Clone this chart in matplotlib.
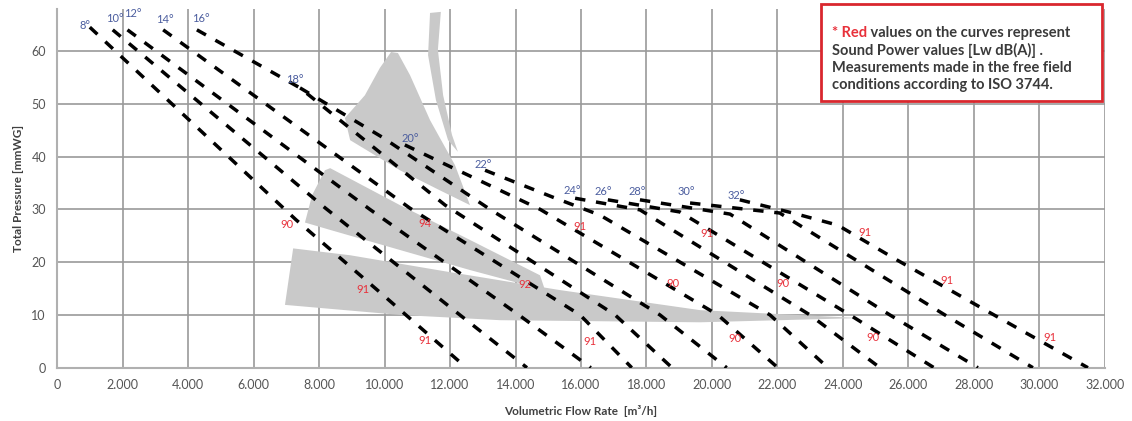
import matplotlib
matplotlib.use("Agg")
import matplotlib.pyplot as plt
from matplotlib.patches import Polygon, Rectangle

plt.rcParams['font.family'] = ['Lato', 'DejaVu Sans']

# Blade angles and their characteristic curves (flow m3/h, pressure mmWG)
angles = [8, 10, 12, 14, 16, 18, 20, 22, 24, 26, 28, 30, 32]
curve_x = [
    [1000, 7300, 9950, 12500],
    [1700, 8200, 12300, 14350],
    [2150, 9550, 14100, 16300],
    [3240, 10780, 15970, 17550],
    [4270, 7420, 11850, 17040, 18780],
    [7420, 9920, 13220, 18410, 20450],
    [10620, 11900, 14750, 20180, 22010],
    [13070, 15140, 16580, 21770, 23540],
    [15820, 17800, 22990, 25130],
    [16820, 19020, 24210, 26780],
    [17800, 20550, 25430, 28120],
    [19330, 22070, 27110, 29800],
    [20850, 22470, 23840, 25650, 28180, 31480],
]
curve_y = [
    [64.5, 28.0, 13.8, 0],
    [64.0, 30.2, 10.0, 0],
    [64.0, 30.0, 10.0, 0],
    [64.0, 30.2, 10.0, 0],
    [64.0, 53.0, 30.8, 10.0, 0],
    [53.0, 43.7, 30.0, 10.0, 0],
    [42.2, 38.4, 30.0, 10.0, 0],
    [37.4, 32.3, 28.9, 10.0, 0],
    [32.1, 29.9, 10.0, 0],
    [31.8, 29.5, 10.0, 0],
    [31.8, 29.1, 10.0, 0],
    [31.2, 29.3, 10.0, 0],
    [31.8, 29.3, 27.0, 20.4, 11.5, 0],
]
# where the angle labels sit
angle_lx = [850, 1770, 2320, 3300, 4400, 7270, 10780, 13010, 15720, 16670, 17710, 19230, 20730]
angle_ly = [64.9, 66.2, 67.0, 65.9, 66.2, 54.5, 43.5, 38.4, 33.6, 33.3, 33.3, 33.3, 32.7]

# Sound power values written on the curves
lw_val = [90, 91, 91, 94, 92, 91, 91, 91, 90, 90, 90, 91, 90, 91, 91]
lw_x = [7020, 9340, 11240, 11240, 14290, 15970, 16270, 19840, 18810, 20700, 22170, 24670, 24910, 27170, 30320]
lw_y = [27.2, 14.9, 5.1, 27.4, 15.7, 26.8, 4.9, 25.5, 16.0, 5.6, 16.0, 25.7, 5.8, 16.6, 5.8]

# grey shaded zones (x, y outline)
zone_x = [
    [11390, 11720, 11630, 11790, 12060, 12240, 11940, 11570, 11330],
    [10200, 10410, 10780, 11390, 12150, 12610, 11690, 10470, 8950, 8790, 9400, 9860],
    [8180, 8340, 10470, 12610, 14750, 14900, 12610, 10470, 8340, 7570, 7790],
    [7210, 8950, 12000, 15360, 19640, 24520, 19640, 13530, 10470, 6960],
]
zone_y = [
    [67.2, 67.4, 60.2, 51.6, 44.1, 40.9, 43.1, 50.7, 59.2],
    [59.8, 59.6, 55.4, 46.9, 38.4, 30.8, 33.6, 37.4, 43.1, 47.3, 51.6, 56.8],
    [37.4, 37.8, 30.8, 24.2, 17.5, 14.7, 18.5, 22.3, 26.1, 27.5, 32.7],
    [22.6, 21.3, 18.1, 14.7, 10.9, 9.4, 8.6, 9.0, 10.0, 11.9],
]

note_lines = ['* Red values on the curves represent',
              'Sound Power values [Lw dB(A)] .',
              'Measurements made in the free field',
              'conditions according to ISO 3744.']

fig = plt.figure(figsize=(11.32, 4.21), dpi=100)
ax = fig.add_axes([0.0504, 0.1266, 0.9257, 0.8527])

for zx, zy in zip(zone_x, zone_y):
    ax.add_patch(Polygon(list(zip(zx, zy)), closed=True, facecolor='#c9c9c9',
                         edgecolor='none', zorder=1))

for cx, cy in zip(curve_x, curve_y):
    ax.plot(cx, cy, color='black', lw=2.5, dashes=(3, 3.1), zorder=3)

for a, lx, ly in zip(angles, angle_lx, angle_ly):
    ax.text(lx, ly, str(a) + '°', color='#4a5c9e', fontsize=8,
            ha='center', va='center', zorder=4)

for v, lx, ly in zip(lw_val, lw_x, lw_y):
    ax.text(lx, ly, str(v), color='#e8303a', fontsize=8,
            ha='center', va='center', zorder=4)

ax.set_xlim(0, 32000)
ax.set_ylim(0, 68)
xt = list(range(0, 32001, 2000))
ax.set_xticks(xt)
ax.set_xticklabels(['{:,}'.format(v).replace(',', '.') for v in xt])
ax.set_yticks(range(0, 61, 10))
ax.grid(True, color='#9a9a9a', lw=1.2)
ax.set_axisbelow(True)
for s in ['top', 'right']:
    ax.spines[s].set_visible(False)
for s in ['left', 'bottom']:
    ax.spines[s].set_color('#b0b0b0')
    ax.spines[s].set_linewidth(1.5)
ax.tick_params(length=0, labelsize=9, colors='#555555', pad=8)

ax.set_xlabel('Volumetric Flow Rate  [m³/h]', fontsize=8.5, fontweight='bold',
              color='#404040', labelpad=10)
ax.set_ylabel('Total Pressure [mmWG]', fontsize=8.5, fontweight='bold',
              color='#404040', labelpad=5)

# note box (axes fraction)
ax.add_patch(Rectangle((0.729, 0.743), 0.268, 0.27, transform=ax.transAxes,
                       facecolor='white', edgecolor='#d9272e', lw=2,
                       clip_on=False, zorder=6))
line_y = [0.932, 0.885, 0.835, 0.788]
red = ax.text(0.7395, line_y[0], '* Red', transform=ax.transAxes, fontsize=10.5,
              fontweight='bold', color='#e8303a', va='center', ha='left', zorder=7)
ax.annotate(note_lines[0][5:], xy=(1, 0), xycoords=red, fontsize=10.5,
            fontweight='bold', color='#3a3a3a', va='bottom', ha='left', zorder=7)
for txt, ly in zip(note_lines[1:], line_y[1:]):
    ax.text(0.7395, ly, txt, transform=ax.transAxes, fontsize=10.5,
            fontweight='bold', color='#3a3a3a', va='center', ha='left', zorder=7)

fig.savefig('out.png', dpi=100, facecolor='white')
